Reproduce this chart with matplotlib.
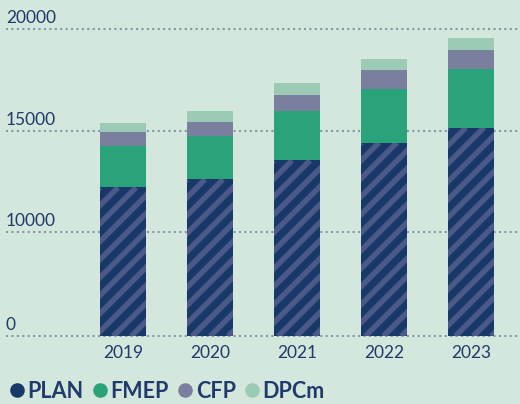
import numpy as np
import matplotlib
matplotlib.use('Agg')
import matplotlib.pyplot as plt
from matplotlib.lines import Line2D
from matplotlib.transforms import Bbox

years = ['2019', '2020', '2021', '2022', '2023']
plan = [12200, 12600, 13530, 14410, 15150]
fmep = [2060, 2150, 2450, 2650, 2890]
cfp = [670, 690, 780, 930, 930]
dpcm = [460, 540, 590, 540, 590]

series = ['PLAN', 'FMEP', 'CFP', 'DPCm']
colors = ['#173868', '#2aa37a', '#7b7f9e', '#9ccbb5']
# axis is cut: the bottom line carries the label "0"
ytick_vals = [4880, 10000, 15000, 20000]
ytick_lbls = ['0', '10000', '15000', '20000']

bg = '#d4e7dc'
txt = '#1f3a6b'
stripe = '#4a5988'

fig = plt.figure(figsize=(5.2, 4.04), dpi=100, facecolor=bg)
ax = fig.add_axes([6/520, 1 - 336.3/404, 514/520, 336.3/404])
ax.set_facecolor(bg)

x = np.arange(len(years))
w = 46/87

ax.set_xlim(-1.345, 4.563)
ax.set_ylim(ytick_vals[0], ytick_vals[0] + 336.3 * 49.19)

bottom = np.zeros(len(years))
plan_bars = None
for i, (name, vals) in enumerate(zip(series, [plan, fmep, cfp, dpcm])):
    bars = ax.bar(x, vals, w, bottom=bottom, color=colors[i], linewidth=0, zorder=3)
    if name == 'PLAN':
        plan_bars = bars
    bottom += np.array(vals)

# diagonal stripes on the PLAN bars, clipped to the visible part of each bar
fig.canvas.draw()
for b in plan_bars:
    bb = Bbox.intersection(b.get_window_extent(), ax.bbox)
    h = bb.height
    for c in np.arange(bb.x0 - h, bb.x1 + 18, 18):
        ln = Line2D([c, c + h], [bb.y0, bb.y1], transform=None, color=stripe,
                    linewidth=4.0, solid_capstyle='butt', zorder=4)
        ax.add_artist(ln)
        ln.set_clip_box(bb)

for v, lbl in zip(ytick_vals, ytick_lbls):
    ax.axhline(v, color='#8496a8', linestyle=(0, (1, 1.6)), linewidth=1.5, zorder=1,
               clip_on=False)
    ax.annotate(lbl, (0, v), xycoords=('axes fraction', 'data'), xytext=(0, 6),
                textcoords='offset pixels', ha='left', va='baseline',
                fontsize=12.5, color=txt, family='Lato')

ax.set_yticks([])
ax.set_xticks(x)
ax.set_xticklabels(years, fontsize=12.5, color=txt, family='Lato')
ax.tick_params(axis='x', length=0, pad=6)
for s in ax.spines.values():
    s.set_visible(False)

handles = [Line2D([], [], marker='o', linestyle='', markersize=10.5,
                  markerfacecolor=c, markeredgewidth=0) for c in colors]
fig.legend(handles, series, loc='lower left', bbox_to_anchor=(0.003, -0.016),
           ncol=4, frameon=False, handlelength=0.6, handletextpad=0.2,
           columnspacing=0.45, borderaxespad=0,
           prop={'family': 'Lato', 'weight': 'bold', 'size': 15.5},
           labelcolor=txt)

fig.savefig('out.png', dpi=100, facecolor=bg)
